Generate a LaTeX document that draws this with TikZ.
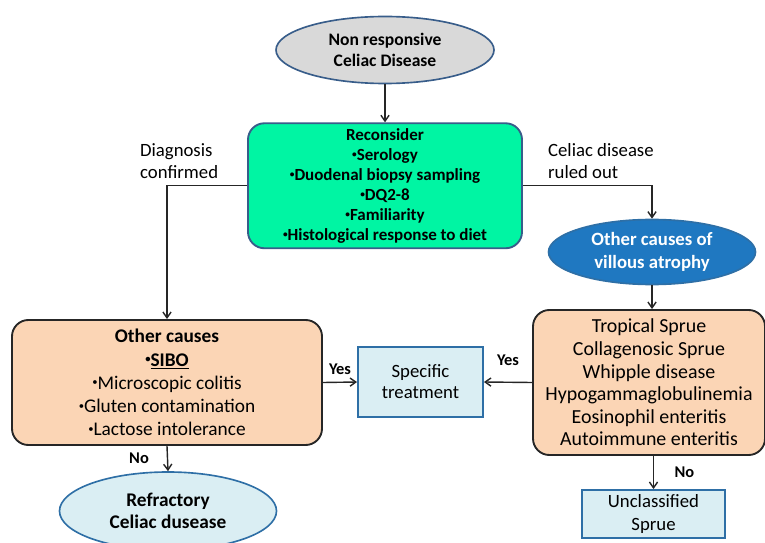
\documentclass[tikz,border=0pt]{standalone}
\usepackage{fontspec}
\setmainfont{Carlito}
\usepackage{xcolor}
\usetikzlibrary{shapes.geometric, arrows.meta, positioning, calc}

\definecolor{greyfill}{HTML}{D9D9D9}
\definecolor{navyline}{HTML}{385D8A}
\definecolor{mintfill}{HTML}{00F5A3}
\definecolor{peachfill}{HTML}{FBD5B5}
\definecolor{paleblue}{HTML}{DAEEF3}
\definecolor{deepblue}{HTML}{1F78C1}
\definecolor{blueline}{HTML}{2E6FA6}

\newcommand{\dotmark}{\raisebox{0.35ex}{\scalebox{0.55}{\textbullet}}}

\begin{document}
\begin{tikzpicture}[x=0.03cm, y=-0.03cm,
        oval/.style={ellipse, draw=navyline, line width=1.4pt, inner sep=0pt, align=center},
        roundbox/.style={rectangle, rounded corners=14pt, line width=1.6pt, inner sep=2pt, align=center},
        flatbox/.style={rectangle, draw=blueline, fill=paleblue, line width=1.6pt, inner sep=2pt, align=center},
        arrow/.style={-{Straight Barb[length=5pt, width=7pt]}, line width=1.2pt, draw=black!85},
        tag/.style={font=\bfseries\fontsize{14}{17}\selectfont, align=left}
    ]
        \useasboundingbox (0,0) rectangle (765,543);

        % Start
        \node[oval, fill=greyfill, minimum width=6.54cm, minimum height=2.01cm,
              font=\bfseries\fontsize{15}{18}\selectfont] (Start) at (385,50)
            {Non responsive\\Celiac Disease};

        % Reconsider
        \node[roundbox, below=1.14cm of Start, draw=navyline, fill=mintfill,
              minimum width=8.22cm, minimum height=3.75cm,
              font=\bfseries\fontsize{14.5}{17}\selectfont] (Recon)
            {Reconsider\\ \dotmark Serology\\ \dotmark Duodenal biopsy sampling\\
             \dotmark DQ2-8\\ \dotmark Familiarity\\ \dotmark Histological response to diet};

        % Other causes (left)
        \node[roundbox, draw=black!85, fill=peachfill, minimum width=9.3cm, minimum height=3.75cm,
              font=\fontsize{16.5}{19.8}\selectfont] (Other) at (167,382.5)
            {\textbf{Other causes}\\ \textbf{\dotmark\underline{SIBO}}\\ \dotmark Microscopic colitis\\
             \dotmark Gluten contamination\\ \dotmark Lactose intolerance};

        % Villous atrophy
        \node[oval, draw=blueline, fill=deepblue, text=white, minimum width=6.21cm, minimum height=1.95cm,
              font=\bfseries\fontsize{16}{20}\selectfont] (Villous) at (652,252)
            {Other causes of\\villous atrophy};

        % Causes list (right)
        \node[roundbox, draw=black!85, fill=peachfill, minimum width=6.96cm, minimum height=4.35cm,
              font=\fontsize{17}{19.3}\selectfont] (Causes) at (649,382.5)
            {Tropical Sprue\\ Collagenosic Sprue\\ Whipple disease\\ Hypogammaglobulinemia\\
             Eosinophil enteritis\\ Autoimmune enteritis};

        % Treatment
        \node[flatbox, minimum width=3.75cm, minimum height=2.1cm,
              font=\fontsize{16}{18}\selectfont] (Treat) at (420.5,382)
            {Specific\\treatment};

        % Refractory
        \node[oval, draw=blueline, fill=paleblue, minimum width=6.51cm, minimum height=2.34cm,
              font=\bfseries\fontsize{16.5}{19}\selectfont] (Refract) at (168,511)
            {Refractory\\Celiac dusease};

        % Unclassified
        \node[flatbox, minimum width=4.29cm, minimum height=1.44cm,
              font=\fontsize{16}{19}\selectfont] (Unclass) at (653.5,514)
            {Unclassified\\Sprue};

        % Labels
        \node[tag, anchor=west, font=\fontsize{16}{19}\selectfont] (Confirmed) at (136,161) {Diagnosis\\confirmed};
        \node[tag, anchor=west, font=\fontsize{16}{19}\selectfont] (RuledOut) at (544,161) {Celiac disease\\ruled out};

        % Connectors
        \draw[arrow] (Start) -- (Recon);
        \draw[arrow] (Recon.west) -| (Other.north);
        \draw[arrow] (Recon.east) -| (Villous.north);
        \draw[arrow] (Villous) -- (Villous |- Causes.north);
        \draw[arrow] (Other.east) -- node[above=3pt, tag] {Yes} (Treat.west);
        \draw[arrow] (Causes.west) -- node[above=10pt, tag] {Yes} (Treat.east);
        \draw[arrow] (Other.south) -- node[left=12pt, tag] {No} (Refract.north);
        \draw[arrow] (Unclass.north |- Causes.south) -- node[right=14pt, tag] {No} (Unclass.north);

    \end{tikzpicture}
\end{document}
